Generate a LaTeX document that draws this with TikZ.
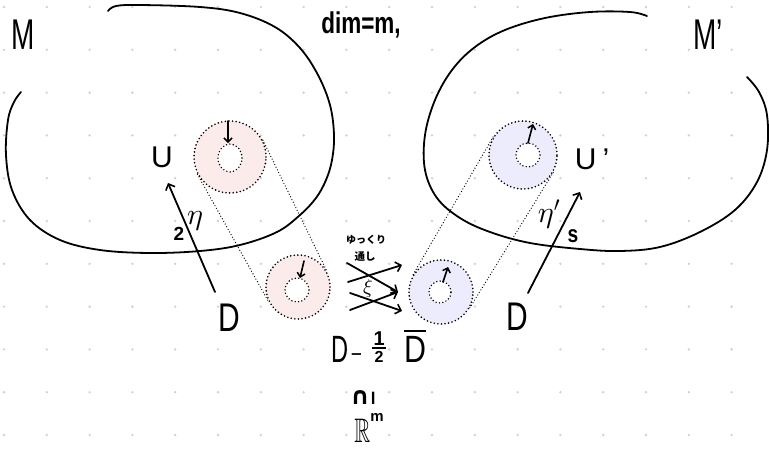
\documentclass[tikz,border=0pt]{standalone}
\usepackage{amssymb}
\usepackage{fontspec}
\setmainfont{Liberation Sans}
\newfontfamily\cjk{Noto Sans CJK JP}
\newfontfamily\djv{DejaVu Sans}
\DeclareFontShape{OML}{cmm}{m}{it}{<->cmmi10}{}
\DeclareFontShape{OMS}{cmsy}{m}{n}{<->cmsy10}{}
\DeclareFontShape{OMX}{cmex}{m}{n}{<->cmex10}{}
\DeclareFontShape{OT1}{cmr}{m}{n}{<->cmr10}{}
\usetikzlibrary{arrows.meta,shapes.geometric}
\newcommand\fsz[1]{\fontsize{#1}{#1}\selectfont}
\definecolor{gridc}{RGB}{208,208,208}
\definecolor{pinkf}{RGB}{252,235,235}
\definecolor{bluef}{RGB}{236,236,252}
\begin{document}
\begin{tikzpicture}[x=1pt,y=-1pt,
  ink/.style={line width=1.8pt, line cap=round, line join=round},
  arr/.style={ink, -{Straight Barb[length=5pt,width=10pt,line width=1.6pt]}},
  arrsmall/.style={line width=1.6pt, line cap=round, -{Straight Barb[length=4pt,width=8pt,line width=1.5pt]}},
  donut/.style={circle, inner sep=0, draw, line width=1.8pt, dash pattern=on 0pt off 3.6pt, line cap=round},
  hole/.style={ellipse, inner sep=0, draw, fill=white, line width=1.6pt, dash pattern=on 0pt off 3.4pt, line cap=round},
  tang/.style={line width=1.3pt, dash pattern=on 0pt off 3pt, line cap=round},
  lbl/.style={inner sep=0, text=black, anchor=base}]
\fill[white] (0,0) rectangle (769,450);
\useasboundingbox (0,0) rectangle (769,450);
% grid dots
\foreach \i in {0,...,17}{\foreach \j in {0,...,10}{\fill[gridc] ({4+42.8*\i},{7+42.8*\j}) circle (1.3pt);}}
% manifolds
\draw[ink] plot[smooth, tension=0.6] coordinates {(108,11) (116,6) (140,5) (200,7) (240,13) (275,27) (300,48) (318,75) (330,105) (334,135) (332,160) (326,180) (316,198) (300,215) (277,232) (240,245) (200,251) (150,253) (100,250) (60,240) (30,220) (12,190) (6,155) (8,120) (14,102) (21,92)};
\draw[ink] plot[smooth, tension=0.6] coordinates {(647,16) (630,12) (590,12) (545,18) (505,30) (475,47) (452,70) (435,100) (425,135) (425,170) (437,198) (460,218) (490,232) (530,243) (580,249) (620,251) (660,247) (700,232) (735,210) (757,182) (767,150) (767,115) (759,92) (747,77)};
% donuts
\node[donut, fill=pinkf, minimum size=72pt] (pA) at (230,157) {};
\node[hole, minimum width=24pt, minimum height=28pt] (hA) at (230,158) {};
\node[donut, fill=pinkf, minimum size=64pt] (pB) at (298,287) {};
\node[hole, minimum width=24pt, minimum height=24pt] (hB) at (297,290) {};
\node[donut, fill=bluef, minimum size=68pt] (bA) at (523,155) {};
\node[hole, minimum width=24pt, minimum height=24pt] (hC) at (528,155) {};
\node[donut, fill=bluef, minimum size=64pt] (bB) at (441,292) {};
\node[hole, minimum width=22pt, minimum height=22pt] (hD) at (440,292) {};
% tangent lines
\draw[tang] (pA.27.6) -- (pB.27.6);
\draw[tang] (pA.-152.4) -- (pB.-152.4);
\draw[tang] (bA.-30.9) -- (bB.-30.9);
\draw[tang] (bA.149.1) -- (bB.149.1);
% small arrows in donuts
\coordinate (s1a) at (228,121); \coordinate (s1b) at (228,143);
\coordinate (s2a) at (304,261); \coordinate (s2b) at (300,278);
\coordinate (s3a) at (528,143); \coordinate (s3b) at (533,124);
\coordinate (s4a) at (443,282); \coordinate (s4b) at (448,267);
\draw[arrsmall] (s1a) -- (s1b);
\draw[arrsmall] (s2a) -- (s2b);
\draw[arrsmall] (s3a) -- (s3b);
\draw[arrsmall] (s4a) -- (s4b);
% labels
\node[lbl] (M) at (23,49) {\fsz{43}\scalebox{0.65}[1]{M}};
\node[lbl] (Mp) at (708,49) {\fsz{43}\scalebox{0.65}[1]{M’}};
\node[lbl] (dim) at (361,33) {\bfseries\fsz{30}\scalebox{0.75}[1]{dim=m,}};
\node[lbl] (U) at (162,167) {\fsz{30}U};
\node[lbl] (Up) at (592,169) {\fsz{30}U\hspace{6pt}’};
\node[lbl] (DL) at (229,331) {\fsz{40}\scalebox{0.75}[1]{D}};
\node[lbl] (DR) at (517,330) {\fsz{40}\scalebox{0.75}[1]{D}};
% charts
\coordinate (cLa) at (215,292); \coordinate (cLb) at (168,183);
\coordinate (cRa) at (528,293); \coordinate (cRb) at (580,192);
\draw[arr] (cLa) -- (cLb);
\draw[arr] (cRa) -- (cRb);
\node[lbl] (l2) at (179,240) {\bfseries\fsz{19}2};
\node[lbl] (leta) at (195,224) {\fsz{30}$\eta$};
\node[lbl] (letap) at (549,222) {\fsz{30}$\eta'$};
\node[lbl] (ls) at (573,242) {\bfseries\fsz{24}\scalebox{0.8}[1]{s}};
% crossing arrows
\coordinate (x1a) at (347,263); \coordinate (x1b) at (398,292);
\coordinate (x2a) at (348,282); \coordinate (x2b) at (402,265);
\coordinate (x3a) at (350,293); \coordinate (x3b) at (402,311);
\coordinate (x4a) at (350,310); \coordinate (x4b) at (398,292);
\draw[arr] (x1a) -- (x1b);
\draw[arr] (x2a) -- (x2b);
\draw[arr] (x3a) -- (x3b);
\draw[arr] (x4a) -- (x4b);
\node[lbl] (xi) at (368,293) {\fsz{20}$\xi$};
\node[lbl] (jp1) at (366,243) {\cjk\bfseries\fsz{10}ゆっくり};
\node[lbl] (jp2) at (365,260) {\cjk\bfseries\fsz{10.5}通し};
% bottom
\node[lbl] (Dh) at (379,362) {\fsz{38}\scalebox{0.62}[1]{D}\hspace{2pt}{\fsz{24}\scalebox{0.8}[1]{−}}\hspace{10pt}\vbox{\hbox to 14pt{\hss\bfseries\fsz{20}1\hss}\kern2pt\hrule height 1.8pt\kern2pt\hbox to 14pt{\hss\bfseries\fsz{16}2\hss}}\hspace{18pt}\vbox{\hrule height 1.8pt\kern4pt\hbox{\scalebox{0.8}[1]{D}}}};
\node[lbl] (sub) at (363,404) {{\djv\bfseries\fsz{24}∩}\hspace{1pt}{\bfseries\fsz{17}l}};
\node[lbl] (R) at (369,442) {{\fsz{34}\scalebox{0.65}[1]{$\mathbb{R}$}}\raisebox{21pt}{\bfseries\fsz{15}m}};
\end{tikzpicture}
\end{document}
